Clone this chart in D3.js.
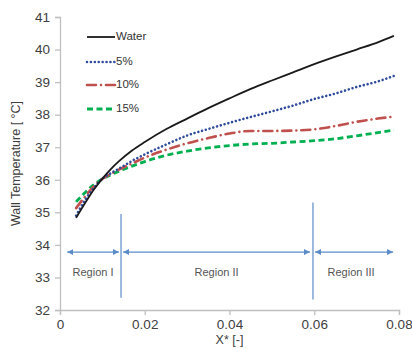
<!DOCTYPE html>
<html>
<head>
<meta charset="utf-8">
<script src="https://cdn.jsdelivr.net/npm/d3@7/dist/d3.min.js"></script>
<style>
  html, body { margin: 0; padding: 0; background: #fff; }
  svg { display: block; font-family: "Liberation Sans", Arial, sans-serif; }
</style>
</head>
<body>
<svg id="chart" width="412" height="350"></svg>
<script>
// Axial position X* and wall temperature (°C) for each fluid
const xValues   = [0.0038, 0.006, 0.008, 0.0099, 0.012, 0.014, 0.017, 0.02, 0.025, 0.03, 0.035, 0.04, 0.045, 0.05, 0.055, 0.06, 0.065, 0.07, 0.075, 0.0788];
const water     = [34.83, 35.30, 35.70, 36.02, 36.33, 36.58, 36.90, 37.16, 37.55, 37.88, 38.20, 38.50, 38.79, 39.05, 39.30, 39.55, 39.78, 40.00, 40.22, 40.42];
const fluid5    = [34.90, 35.40, 35.75, 36.02, 36.20, 36.35, 36.58, 36.78, 37.08, 37.36, 37.56, 37.75, 37.93, 38.10, 38.28, 38.48, 38.65, 38.85, 39.02, 39.19];
const fluid10   = [35.13, 35.50, 35.80, 36.02, 36.18, 36.32, 36.50, 36.68, 36.92, 37.12, 37.28, 37.42, 37.50, 37.50, 37.51, 37.55, 37.65, 37.78, 37.88, 37.94];
const fluid15   = [35.32, 35.62, 35.85, 36.02, 36.15, 36.27, 36.42, 36.56, 36.75, 36.88, 36.98, 37.05, 37.10, 37.12, 37.16, 37.20, 37.26, 37.35, 37.45, 37.53];

const seriesNames = ["Water", "5%", "10%", "15%"];
const yTicks = [32, 33, 34, 35, 36, 37, 38, 39, 40, 41];
const xTicks = [0, 0.02, 0.04, 0.06, 0.08];
const xTickLabels = ["0", "0.02", "0.04", "0.06", "0.08"];

// Flow regions along X*
const regionNames = ["Region I", "Region II", "Region III"];
const regionStart = [0.0017, 0.0149, 0.0602];
const regionEnd   = [0.0139, 0.0590, 0.0786];
const regionDividers = [0.0144, 0.0597];
const dividerTop = [34.95, 35.30];
const dividerBottom = [32.38, 32.32];
const arrowLevel = 33.78;
const labelLevel = 33.12;

const svg = d3.select("#chart");
const margin = { left: 60, right: 13, top: 17, bottom: 40 };
const W = 412, H = 350;

const x = d3.scaleLinear().domain([0, 0.08]).range([margin.left, W - margin.right]);
const y = d3.scaleLinear().domain([32, 41]).range([H - margin.bottom, margin.top]);

const axisColor = "#bfbfbf";
const textColor = "#404040";

// Axes
const yAxis = svg.append("g")
  .attr("transform", `translate(${margin.left},0)`)
  .call(d3.axisLeft(y).tickValues(yTicks).tickFormat(d3.format("d")).tickSizeOuter(0).tickSize(5).tickPadding(5));
const xAxis = svg.append("g")
  .attr("transform", `translate(0,${H - margin.bottom})`)
  .call(d3.axisBottom(x).tickValues(xTicks).tickFormat((d, i) => xTickLabels[i]).tickSizeOuter(0).tickSize(5).tickPadding(4));
[yAxis, xAxis].forEach(g => {
  g.select(".domain").attr("stroke", axisColor).attr("stroke-width", 1.3);
  g.selectAll(".tick line").attr("stroke", axisColor).attr("stroke-width", 1.3);
  g.selectAll(".tick text").attr("fill", textColor).attr("font-size", 13.5);
});

svg.append("text")
  .attr("x", (x(0) + x(0.08)) / 2).attr("y", 344)
  .attr("text-anchor", "middle").attr("fill", textColor).attr("font-size", 12.5)
  .text("X* [-]");
svg.append("text")
  .attr("transform", `translate(20,${(y(32) + y(41)) / 2}) rotate(-90)`)
  .attr("text-anchor", "middle").attr("fill", textColor).attr("font-size", 12.5)
  .text("Wall Temperature  [ °C]");

// Region dividers, arrows and labels
const regionColor = "#5b8cc8";
const defs = svg.append("defs");
defs.append("marker").attr("id", "arrowEnd")
  .attr("viewBox", "0 0 10 10").attr("refX", 10).attr("refY", 5)
  .attr("markerWidth", 6).attr("markerHeight", 6).attr("markerUnits", "userSpaceOnUse")
  .attr("orient", "auto-start-reverse")
  .append("path").attr("d", "M0,0L10,5L0,10Z").attr("fill", regionColor);

svg.append("g").selectAll("line").data(regionDividers).join("line")
  .attr("x1", d => x(d)).attr("x2", d => x(d))
  .attr("y1", (d, i) => y(dividerTop[i])).attr("y2", (d, i) => y(dividerBottom[i]))
  .attr("stroke", regionColor).attr("stroke-width", 1.2);

svg.append("g").selectAll("line").data(regionNames).join("line")
  .attr("x1", (d, i) => x(regionStart[i])).attr("x2", (d, i) => x(regionEnd[i]))
  .attr("y1", y(arrowLevel)).attr("y2", y(arrowLevel))
  .attr("stroke", regionColor).attr("stroke-width", 1.2)
  .attr("marker-start", "url(#arrowEnd)").attr("marker-end", "url(#arrowEnd)");

svg.append("g").selectAll("text").data(regionNames).join("text")
  .attr("x", (d, i) => (x(regionStart[i]) + x(regionEnd[i])) / 2 + (i === 2 ? -3 : 0))
  .attr("y", y(labelLevel))
  .attr("text-anchor", "middle").attr("dominant-baseline", "middle")
  .attr("fill", "#555").attr("font-size", 11)
  .text(d => d);

// Series
const styles = [
  { values: water,   color: "#1a1a1a", width: 1.8, dash: null, cap: "butt" },
  { values: fluid5,  color: "#2f4b9b", width: 2.6, dash: "0.01 3.9", cap: "round" },
  { values: fluid10, color: "#c0504d", width: 2.6, dash: "9 5 0.01 5", cap: "round" },
  { values: fluid15, color: "#00b050", width: 2.8, dash: "6 3.5", cap: "butt" }
];

const line = d3.line()
  .x((d, i) => x(xValues[i]))
  .y(d => y(d))
  .curve(d3.curveMonotoneX);

// Draw in reverse so the water line sits on top
svg.append("g").selectAll("path").data(styles.slice().reverse()).join("path")
  .attr("d", s => line(s.values))
  .attr("fill", "none")
  .attr("stroke", s => s.color)
  .attr("stroke-width", s => s.width)
  .attr("stroke-linecap", s => s.cap)
  .attr("stroke-dasharray", s => s.dash);

// Legend
const legendY = [37, 62, 85, 109];
const legend = svg.append("g");
styles.forEach((s, i) => {
  legend.append("line")
    .attr("x1", 87).attr("x2", 115)
    .attr("y1", legendY[i]).attr("y2", legendY[i])
    .attr("stroke", s.color).attr("stroke-width", s.width)
    .attr("stroke-linecap", s.cap)
    .attr("stroke-dasharray", s.dash);
  legend.append("text")
    .attr("x", 116).attr("y", legendY[i])
    .attr("dominant-baseline", "middle")
    .attr("fill", "#333").attr("font-size", 11.5)
    .text(seriesNames[i]);
});
</script>
</body>
</html>
